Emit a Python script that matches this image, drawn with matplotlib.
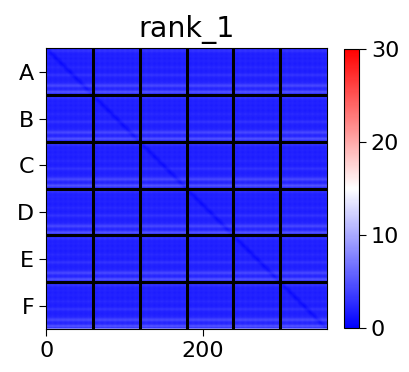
import numpy as np
import matplotlib
matplotlib.use("Agg")
import matplotlib.pyplot as plt

# block structure: 6 groups, 60 positions each
groups = ["A", "B", "C", "D", "E", "F"]
block = 60

# value profile down the rows of one block
row_profile = [1.9, 2.1, 2.5, 2.9, 2.7, 2.3, 2.0, 1.9, 1.8, 1.9,
               2.0, 1.9, 1.8, 1.7, 1.8, 1.9, 2.0, 1.9, 1.8, 1.7,
               1.7, 1.8, 1.9, 2.1, 2.3, 2.2, 2.0, 1.9, 1.8, 1.7,
               1.8, 1.9, 2.2, 2.6, 2.9, 2.7, 2.3, 2.0, 1.9, 1.8,
               1.8, 1.9, 2.0, 2.1, 2.3, 2.7, 3.3, 3.9, 4.1, 3.5,
               2.7, 2.3, 2.2, 2.5, 3.3, 4.3, 4.7, 3.9, 2.9, 2.3]
# faint column variation across one block
col_profile = [0.6, 0.4, 0.2, 0.1, 0.0, 0.0, 0.1, 0.2, 0.3, 0.2,
               0.1, 0.0, 0.0, 0.1, 0.2, 0.3, 0.2, 0.1, 0.0, 0.0,
               0.1, 0.2, 0.2, 0.1, 0.0, 0.0, 0.1, 0.2, 0.3, 0.2,
               0.1, 0.0, 0.0, 0.1, 0.2, 0.2, 0.1, 0.0, 0.0, 0.1,
               0.2, 0.3, 0.2, 0.1, 0.0, 0.0, 0.1, 0.2, 0.2, 0.1,
               0.0, 0.0, 0.1, 0.2, 0.3, 0.2, 0.1, 0.1, 0.3, 0.5]
# darker band along the main diagonal, by distance |i - j|
diag_drop = [1.2, 1.0, 0.8, 0.6, 0.4, 0.2]
bottom_edge_value = 9  # pinkish last row of the matrix

vmin, vmax = 0, 30

n = len(groups) * block
tile = np.add.outer(np.array(row_profile), np.array(col_profile))
mat = np.tile(tile, (len(groups), len(groups)))
idx = np.arange(n)
for d, drop in enumerate(diag_drop):
    mat[idx[d:], idx[:n - d]] -= drop
    if d:
        mat[idx[:n - d], idx[d:]] -= drop
mat[-1, :] = bottom_edge_value

fig = plt.figure(figsize=(4.09, 3.72), dpi=100)
ax = fig.add_axes([46 / 409, 43 / 372, 281 / 409, 281 / 372])
cax = fig.add_axes([344 / 409, 44 / 372, 15 / 409, 279 / 372])

im = ax.imshow(mat, cmap="bwr", vmin=vmin, vmax=vmax, aspect="auto",
               interpolation="antialiased")
for k in range(1, len(groups)):
    ax.axhline(k * block - 0.5, color="black", lw=2.2)
    ax.axvline(k * block - 0.5, color="black", lw=2.2)

ax.set_xticks([0, 200])
ax.set_yticks([block * i + block / 2 for i in range(len(groups))])
ax.set_yticklabels(groups)
ax.tick_params(labelsize=16, length=5)
ax.set_title("rank_1", fontsize=20.5, pad=8)

cb = fig.colorbar(im, cax=cax, ticks=[0, 10, 20, 30])
cb.ax.tick_params(labelsize=16, length=5)

fig.savefig("out.png", dpi=100)
